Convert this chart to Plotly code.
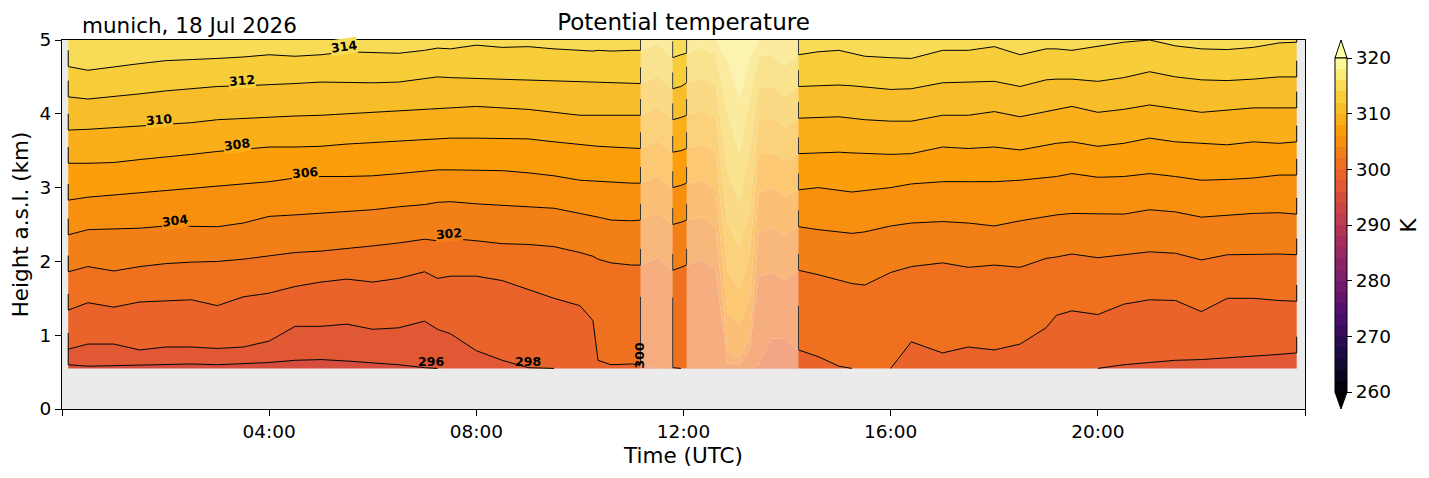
import numpy as np
import plotly.graph_objects as go
import plotly.express as px
from plotly.colors import sample_colorscale

# profile times (hours UTC) on 18 Jul 2026
hours = [0.12, 0.5, 1.0, 1.5, 2.0, 2.5, 3.0, 3.5, 4.0, 4.5,
         5.0, 5.5, 6.0, 6.5, 7.0, 7.25, 7.5, 8.0, 8.5, 9.0,
         9.5, 10.0, 10.25, 10.35, 10.6, 11.0, 11.17, 11.5, 11.79, 11.95,
         12.06, 12.35, 12.62, 12.85, 13.08, 13.28, 13.45, 13.7, 13.95, 14.22,
         14.6, 15.0, 15.25, 15.5, 16.0, 16.4, 17.0, 17.5, 18.0, 18.5,
         19.0, 19.2, 19.5, 20.0, 20.5, 21.0, 21.5, 22.0, 22.5, 23.0,
         23.5, 23.84]

GROUND = 0.55   # lowest retrieved height (km)
TOP = 5.0       # top of the plot (km)

# height (km) of each isentrope (K) at each time; GROUND = at/below lowest gate, TOP = above plot
G, T = GROUND, TOP
th296 = [0.60, 0.58, 0.59, 0.60, 0.61, 0.61, 0.60, 0.61, 0.63, 0.66,
         0.67, 0.65, 0.63, 0.60, 0.56, G, G, G, G, G,
         G, G, G, G, G, G, G, G, G, G,
         G, G, G, G, G, G, G, G, G, G,
         G, G, G, G, G, G, G, G, G, G,
         G, G, G, G, G, G, G, G, G, G,
         G, G]
th298 = [0.81, 0.88, 0.88, 0.80, 0.84, 0.84, 0.82, 0.84, 0.92, 1.12,
         1.12, 1.15, 1.08, 1.10, 1.19, 1.08, 1.02, 0.79, 0.66, 0.56,
         G, G, G, G, G, G, G, G, G, G,
         G, G, G, G, G, G, G, G, G, G,
         G, G, G, G, G, G, G, G, G, G,
         G, G, G, G, 0.60, 0.63, 0.66, 0.67, 0.69, 0.71,
         0.74, 0.76]
th300 = [1.34, 1.44, 1.38, 1.45, 1.47, 1.48, 1.40, 1.52, 1.57, 1.66,
         1.72, 1.76, 1.72, 1.77, 1.86, 1.77, 1.80, 1.80, 1.74, 1.62,
         1.50, 1.40, 1.20, 0.66, 0.60, 0.61, 0.60, G, 0.56, G,
         G, G, G, G, G, G, 0.60, 0.96, 0.95, 0.80,
         0.71, 0.58, G, G, G, 0.91, 0.76, 0.84, 0.80, 0.88,
         1.10, 1.27, 1.33, 1.28, 1.42, 1.48, 1.47, 1.32, 1.50, 1.50,
         1.47, 1.46]
th302 = [1.86, 1.93, 1.87, 1.93, 1.97, 1.99, 2.00, 2.03, 2.07, 2.12,
         2.14, 2.17, 2.21, 2.25, 2.30, 2.28, 2.31, 2.28, 2.24, 2.23,
         2.20, 2.12, 2.07, 2.03, 1.98, 1.95, 1.95, 2.05, 1.88, 1.92,
         1.95, 2.02, 1.90, 0.62, 0.60, 0.80, 1.80, 1.85, 1.75, 1.88,
         1.82, 1.75, 1.70, 1.68, 1.85, 1.93, 1.98, 1.92, 1.95, 1.92,
         2.04, 2.06, 2.10, 2.05, 2.09, 2.13, 2.11, 2.02, 2.09, 2.10,
         2.10, 2.09]
th304 = [2.36, 2.43, 2.44, 2.45, 2.48, 2.48, 2.47, 2.52, 2.61, 2.63,
         2.65, 2.68, 2.70, 2.74, 2.77, 2.80, 2.81, 2.78, 2.76, 2.74,
         2.72, 2.65, 2.62, 2.60, 2.56, 2.55, 2.56, 2.66, 2.50, 2.53,
         2.56, 2.60, 2.48, 0.78, 0.70, 0.95, 2.40, 2.45, 2.36, 2.47,
         2.43, 2.40, 2.38, 2.40, 2.48, 2.52, 2.54, 2.52, 2.48, 2.55,
         2.61, 2.63, 2.65, 2.64, 2.64, 2.70, 2.67, 2.60, 2.63, 2.65,
         2.66, 2.64]
th306 = [2.83, 2.87, 2.90, 2.93, 2.95, 2.98, 3.02, 3.05, 3.08, 3.13,
         3.15, 3.15, 3.16, 3.19, 3.22, 3.24, 3.24, 3.24, 3.23, 3.20,
         3.16, 3.10, 3.09, 3.08, 3.07, 3.06, 3.06, 3.16, 3.00, 3.03,
         3.06, 3.10, 2.98, 1.30, 1.14, 1.50, 2.94, 3.00, 2.88, 2.97,
         3.00, 2.96, 2.94, 2.96, 3.00, 3.05, 3.08, 3.08, 3.08, 3.10,
         3.13, 3.15, 3.19, 3.14, 3.15, 3.19, 3.15, 3.10, 3.11, 3.13,
         3.17, 3.17]
th308 = [3.33, 3.33, 3.34, 3.38, 3.42, 3.45, 3.49, 3.52, 3.55, 3.55,
         3.56, 3.59, 3.61, 3.64, 3.66, 3.67, 3.67, 3.67, 3.67, 3.66,
         3.62, 3.58, 3.57, 3.56, 3.55, 3.53, 3.53, 3.63, 3.48, 3.50,
         3.53, 3.58, 3.48, 1.85, 1.61, 2.10, 3.45, 3.48, 3.36, 3.46,
         3.47, 3.48, 3.47, 3.46, 3.45, 3.46, 3.55, 3.53, 3.55, 3.51,
         3.57, 3.60, 3.62, 3.56, 3.60, 3.67, 3.62, 3.60, 3.58, 3.62,
         3.60, 3.62]
th310 = [3.78, 3.79, 3.81, 3.84, 3.86, 3.88, 3.92, 3.94, 3.96, 3.97,
         3.98, 4.00, 4.02, 4.03, 4.05, 4.07, 4.08, 4.10, 4.08, 4.06,
         4.02, 3.98, 3.98, 3.98, 3.98, 3.98, 3.98, 4.08, 3.92, 3.95,
         3.98, 4.04, 3.95, 2.50, 2.20, 2.70, 3.92, 3.94, 3.82, 3.94,
         3.95, 3.96, 3.94, 3.92, 3.90, 3.90, 3.98, 3.98, 4.03, 3.96,
         4.03, 4.06, 4.10, 4.02, 4.06, 4.12, 4.07, 4.02, 4.05, 4.08,
         4.08, 4.08]
th312 = [4.23, 4.20, 4.23, 4.27, 4.31, 4.34, 4.37, 4.38, 4.39, 4.41,
         4.43, 4.42, 4.42, 4.43, 4.47, 4.50, 4.49, 4.48, 4.47, 4.46,
         4.45, 4.44, 4.43, 4.43, 4.42, 4.41, 4.41, 4.51, 4.34, 4.37,
         4.42, 4.48, 4.38, 3.20, 2.80, 3.50, 4.35, 4.38, 4.24, 4.37,
         4.38, 4.39, 4.38, 4.36, 4.33, 4.34, 4.42, 4.43, 4.44, 4.37,
         4.46, 4.47, 4.47, 4.44, 4.49, 4.57, 4.50, 4.46, 4.45, 4.47,
         4.50, 4.50]
th314 = [4.64, 4.59, 4.64, 4.68, 4.72, 4.73, 4.75, 4.77, 4.80, 4.78,
         4.80, 4.84, 4.83, 4.82, 4.86, 4.89, 4.88, 4.93, 4.90, 4.91,
         4.88, 4.86, 4.85, 4.86, 4.85, 4.86, 4.86, 4.96, 4.76, 4.80,
         4.82, 4.90, 4.80, 4.00, 3.47, 4.20, 4.78, 4.80, 4.65, 4.80,
         4.84, 4.86, 4.82, 4.78, 4.76, 4.75, 4.86, 4.86, 4.91, 4.80,
         4.88, 4.88, 4.86, 4.92, 4.97, 5.00, 4.92, 4.88, 4.87, 4.90,
         4.96, 4.97]
th316 = [T, T, T, T, T, T, T, T, T, T,
         T, T, T, T, T, T, T, T, T, T,
         T, T, T, T, T, T, T, T, T, T,
         T, T, T, 4.72, 4.20, 4.75, T, T, T, T,
         T, T, T, T, T, T, T, T, T, T,
         T, T, T, T, T, T, T, T, T, T,
         T, T]

theta_levels = [296, 298, 300, 302, 304, 306, 308, 310, 312, 314, 316]
isentropes = [th296, th298, th300, th302, th304, th306, th308, th310, th312, th314, th316]
line_levels = [296, 298, 300, 302, 304, 306, 308, 310, 312, 314]

# periods flagged as unreliable (hours) and blocks of contiguous contour lines
masked_periods = [(11.17, 11.79), (12.06, 14.22)]
line_blocks = [(0.12, 11.17), (11.79, 12.06), (14.22, 23.84)]
edge_rise = 0.22
edge_rise_300 = {11.17: 0.92, 11.79: 0.95, 14.22: 0.6}

# inline contour labels: level, time (h), rotation
label_levels = [314, 312, 310, 308, 306, 304, 302, 296, 298, 300]
label_hours = [5.45, 3.47, 1.88, 3.37, 4.70, 2.19, 7.48, 7.13, 9.0, 11.15]
label_angles = [-8, -5, -5, -8, -5, -8, -5, 0, 0, -90]

cbar_ticks = [260, 270, 280, 290, 300, 310, 320]
time_ticks = [0, 4, 8, 12, 16, 20, 24]
time_labels = ['', '04:00', '08:00', '12:00', '16:00', '20:00', '']
height_ticks = [0, 1, 2, 3, 4, 5]

VMIN, VMAX, STEP = 260, 320, 2
INFERNO = px.colors.sequential.Inferno


def band_color(lo):
    # contourf colour of the layer [lo, lo + STEP]
    return sample_colorscale(INFERNO, [min(max((lo + STEP / 2 - VMIN) / (VMAX - VMIN), 0), 1)])[0]


t = np.array(hours)
FONT = 'DejaVu Sans'
fig = go.Figure()

# filled layers, stacked from the lowest gate upward
fig.add_trace(go.Scatter(x=hours, y=[GROUND] * len(hours), mode='lines',
                         line=dict(width=0), hoverinfo='skip', showlegend=False))
for lev, h in zip(theta_levels, isentropes):
    fig.add_trace(go.Scatter(x=hours, y=np.clip(h, GROUND, TOP), mode='lines',
                             line=dict(width=0), fill='tonexty',
                             fillcolor=band_color(lev - STEP),
                             hoverinfo='skip', showlegend=False))
fig.add_trace(go.Scatter(x=hours, y=[TOP] * len(hours), mode='lines',
                         line=dict(width=0), fill='tonexty',
                         fillcolor=band_color(theta_levels[-1]),
                         hoverinfo='skip', showlegend=False))

# black isentropes, broken over the flagged periods
for lev, h in zip(theta_levels, isentropes):
    if lev not in line_levels:
        continue
    h = np.array(h)
    above = h > GROUND + 1e-6
    xs, ys = [], []
    for a, b in line_blocks:
        i0 = int(np.argmin(np.abs(t - a)))
        i1 = int(np.argmin(np.abs(t - b)))
        bx, by = [], []
        for i in range(i0, i1 + 1):
            keep = above[i] or (i > i0 and above[i - 1]) or (i < i1 and above[i + 1])
            bx.append(t[i])
            by.append(min(h[i], TOP) if keep else None)
        for i, where in ((i1, 'end'), (i0, 'start')):
            if not above[i]:
                continue
            rise = edge_rise_300.get(t[i], edge_rise) if lev == 300 else edge_rise
            top = min(h[i] + rise, TOP)
            if where == 'end':
                bx.append(t[i]); by.append(top)
            else:
                bx.insert(0, t[i]); by.insert(0, top)
        xs += bx + [None]
        ys += by + [None]
    fig.add_trace(go.Scatter(x=xs, y=ys, mode='lines', line=dict(color='black', width=1),
                             hoverinfo='skip', showlegend=False, connectgaps=False))

# colour bar (discrete 2 K layers)
nb = (VMAX - VMIN) // STEP
cscale = []
for k in range(nb):
    c = band_color(VMIN + k * STEP)
    cscale += [[k / nb, c], [(k + 1) / nb, c]]

# the page body is offset by 8 px, so the figure is 8 px smaller
W, H = 1429 - 8, 478 - 8
ML, MR, MT, MB = 54, 124, 32, 69
PW = W - ML - MR
PH = H - MT - MB
cb_x0 = (1335 - 62) / PW
cb_w = 12 / PW
cb_y0 = (409 - 392) / PH
cb_y1 = (409 - 58) / PH
fig.add_trace(go.Scatter(
    x=[hours[0]], y=[GROUND], mode='markers', hoverinfo='skip', showlegend=False,
    marker=dict(size=1, opacity=0, color=[VMIN], cmin=VMIN, cmax=VMAX, colorscale=cscale,
                showscale=True,
                colorbar=dict(x=cb_x0, xanchor='left', xpad=0, thickness=12,
                              y=(cb_y0 + cb_y1) / 2, yanchor='middle', ypad=0,
                              len=cb_y1 - cb_y0, lenmode='fraction',
                              tickvals=cbar_ticks, ticks='outside', ticklen=5,
                              tickcolor='black', outlinecolor='black', outlinewidth=1,
                              tickfont=dict(family=FONT, size=18.5, color='black')))))

shapes = []
for a, b in masked_periods:
    shapes.append(dict(type='rect', xref='x', yref='y', x0=a, x1=b, y0=GROUND, y1=TOP,
                       fillcolor='rgba(255,255,255,0.43)', line=dict(width=0), layer='above'))
xm = cb_x0 + cb_w / 2
shapes.append(dict(type='path', xref='paper', yref='paper',
                   path=f'M {cb_x0},{cb_y1} L {cb_x0 + cb_w},{cb_y1} L {xm},1.0 Z',
                   fillcolor=band_color(VMAX), line=dict(color='black', width=1)))
shapes.append(dict(type='path', xref='paper', yref='paper',
                   path=f'M {cb_x0},{cb_y0} L {cb_x0 + cb_w},{cb_y0} L {xm},0.0 Z',
                   fillcolor=band_color(VMIN - STEP), line=dict(color='black', width=1)))

annotations = []
for lev, lh, ang in zip(label_levels, label_hours, label_angles):
    h = np.interp(lh, hours, isentropes[theta_levels.index(lev)])
    on_line = h > GROUND + 0.02 and ang != -90
    if on_line:
        y = h + 0.07
    elif ang == -90:
        y = h + 0.13
    else:
        y = GROUND + 0.09
    annotations.append(dict(x=lh, y=y, xref='x', yref='y', text=f'<b>{lev}</b>',
                            showarrow=False, textangle=ang,
                            bgcolor=band_color(lev) if on_line else 'rgba(0,0,0,0)',
                            borderpad=0, font=dict(family=FONT, size=12.5, color='black')))
annotations.append(dict(x=(80 - 62) / PW, y=(409 - 25.8) / PH, xref='paper', yref='paper',
                        xanchor='left', yanchor='middle', showarrow=False,
                        text='munich, 18 Jul 2026', font=dict(family=FONT, size=21.5, color='black')))
annotations.append(dict(x=(1408 - 62) / PW, y=0.5, xref='paper', yref='paper',
                        xanchor='center', yanchor='middle', showarrow=False,
                        text='K', textangle=-90,
                        font=dict(family=FONT, size=21.5, color='black')))

fig.update_layout(
    width=W, height=H,
    margin=dict(l=ML, r=MR, t=MT, b=MB),
    paper_bgcolor='white', plot_bgcolor='#ebebeb',
    font=dict(family=FONT, color='black'),
    title=dict(text='Potential temperature', x=0.5, xref='paper', xanchor='center',
               y=1 - (21.5 - 8) / H, yref='container', yanchor='middle',
               font=dict(family=FONT, size=23, color='black')),
    xaxis=dict(range=[0, 24], tickvals=time_ticks, ticktext=time_labels,
               ticks='outside', ticklen=6, tickwidth=1, tickcolor='black',
               showline=True, mirror=True, linecolor='black', linewidth=1,
               showgrid=False, zeroline=False, automargin=False,
               tickfont=dict(family=FONT, size=18.5),
               title=dict(text='Time (UTC)', font=dict(family=FONT, size=21.5), standoff=6)),
    yaxis=dict(range=[0, 5], tickvals=height_ticks,
               ticks='outside', ticklen=6, tickwidth=1, tickcolor='black',
               showline=True, mirror=True, linecolor='black', linewidth=1,
               showgrid=False, zeroline=False, automargin=False,
               tickfont=dict(family=FONT, size=18.5),
               title=dict(text='Height a.s.l. (km)', font=dict(family=FONT, size=21.5), standoff=8)),
    shapes=shapes, annotations=annotations,
)

fig.write_html('out.html')
